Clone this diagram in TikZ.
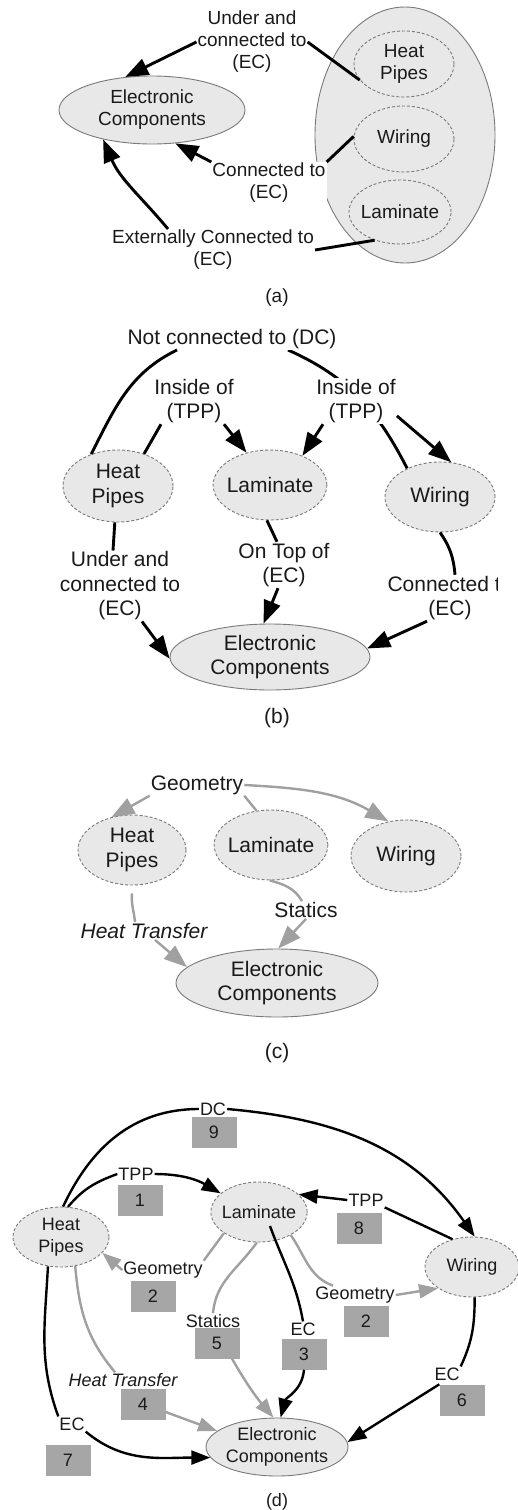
\documentclass[tikz,border=0pt]{standalone}
\usepackage{fontspec}
\setmainfont{Liberation Sans}
\usetikzlibrary{shapes.geometric,arrows.meta,backgrounds}
\definecolor{entfill}{HTML}{E8E8E8}
\definecolor{entline}{HTML}{7A7A7A}
\definecolor{linegray}{HTML}{A0A0A0}
\definecolor{boxgray}{HTML}{A6A6A6}
\definecolor{txt}{HTML}{1A1A1A}
\newcommand\fsA{\fontsize{19pt}{22pt}\selectfont}
\newcommand\fsB{\fontsize{21pt}{24.5pt}\selectfont}
\newcommand\fsD{\fontsize{18pt}{21.5pt}\selectfont}
\tikzset{
  ent/.style={ellipse, draw=entline, fill=entfill, line width=0.9pt, inner sep=-3pt, align=center, text=txt},
  dent/.style={ent, dash pattern=on 3pt off 2pt},
  lbl/.style={fill=white, inner sep=1pt, align=center, text=txt},
  blk/.style={draw=black, line width=2.9pt},
  blkd/.style={draw=black, line width=2.4pt},
  gry/.style={draw=linegray, line width=2.4pt},
  tipb/.style={-{Triangle[length=23pt,width=17pt]}},
  tips/.style={-{Triangle[length=19pt,width=14pt]}},
  num/.style={fill=boxgray, minimum width=45pt, minimum height=31pt, inner sep=0pt, text=txt},
}
\begin{document}
\begin{tikzpicture}[x=1pt,y=-1pt]
\useasboundingbox (0,0) rectangle (517,1510);
\begin{scope}[on background layer]
  \fill[white] (0,0) rectangle (517,1510);
\end{scope}

% ---------------- (a) ----------------
\begin{scope}[font=\fsA]
\node[ent, minimum width=180pt, minimum height=256pt] (aGroup) at (405,135) {};
\node[ent, minimum width=186pt, minimum height=68pt] (aEC) at (152,110) {Electronic\\Components};
\node[dent, minimum width=100pt, minimum height=66pt] (aHP) at (404,64) {Heat\\Pipes};
\node[dent, minimum width=100pt, minimum height=66pt] (aWi) at (404,139) {Wiring};
\node[dent, minimum width=102pt, minimum height=64pt] (aLa) at (400,212) {Laminate};
\node[lbl] (aL1) at (252,42) {Under and\\connected to\\(EC)};
\node[lbl] (aL2) at (269,183) {Connected to\\(EC)};
\node[lbl] (aL3) at (213,250) {Externally Connected to\\(EC)};
\draw[blk] (aHP.200) -- (aL1.east);
\draw[blk,tipb] (aL1.west) -- (aEC.129);
\draw[blk] (aWi.177) -- (aL2.north east);
\draw[blk,tipb] (aL2.north west) -- (aEC.305);
\draw[blk] (aLa.228) -- (aL3.east);
\draw[blk,tipb] ([xshift=-45pt]aL3.north) to[out=130,in=-67] (aEC.211);
\node[text=txt] (aCap) at (277,298) {(a)};
\end{scope}

% ---------------- (b) ----------------
\begin{scope}[font=\fsB]
\node[dent, minimum width=110pt, minimum height=72pt] (bHP) at (118,486) {Heat\\Pipes};
\node[dent, minimum width=108pt, minimum height=70pt] (bLa) at (270,485) {Laminate};
\node[dent, minimum width=110pt, minimum height=70pt] (bWi) at (440,497) {Wiring};
\node[ent, minimum width=200pt, minimum height=66pt] (bEC) at (270,657) {Electronic\\Components};
\node[lbl] (bDC) at (232,339) {Not connected to (DC)};
\node[lbl] (bIL) at (194,401) {Inside of\\(TPP)};
\node[lbl] (bIR) at (356,401) {Inside of\\(TPP)};
\node[lbl] (bL1) at (120,586) {Under and\\connected to\\(EC)};
\node[lbl] (bL2) at (284,565) {On Top of\\(EC)};
\begin{scope}
  \clip (370,560) rectangle (497,630);
  \node[lbl] (bL3) at (450,598) {Connected to\\(EC)};
\end{scope}
\begin{scope}[on background layer]
  \draw[blk] ([xshift=56pt]bDC.south) to[out=-24,in=117] (bWi.139);
\end{scope}
\draw[blk] (bHP.130) to[out=63,in=206] ([xshift=-55pt]bDC.south);
\draw[blk] (bHP.51) -- ([xshift=-33pt]bIL.south);
\draw[blk,tipb] ([xshift=30pt]bIL.south) -- (bLa.126);
\draw[blk,tipb] ([xshift=-33pt]bIR.south) -- (bLa.42);
\draw[blk,tipb] (bIR.-20) -- (bWi.72);
\draw[blk] (bHP.265) -- ([xshift=-7pt]bL1.north);
\draw[blk,tipb] ([xshift=22pt]bL1.south) -- (bEC.181);
\draw[blk] (bLa.265) -- ([xshift=-7pt]bL2.north);
\draw[blk,tipb] ([xshift=-6pt]bL2.south) -- (bEC.101);
\draw[blk] (bWi.270) to[out=-55,in=95] ([xshift=5pt]bL3.north);
\draw[blk,tipb] ([xshift=-23pt]bL3.south) -- (bEC.5);
\node[text=txt] (bCap) at (277,718) {(b)};
\end{scope}

% ---------------- (c) ----------------
\begin{scope}[font=\fsB]
\node[dent, minimum width=108pt, minimum height=70pt] (cHP) at (132,850) {Heat\\Pipes};
\node[dent, minimum width=108pt, minimum height=70pt] (cLa) at (271,845) {Laminate};
\node[dent, minimum width=110pt, minimum height=72pt] (cWi) at (406,856) {Wiring};
\node[ent, minimum width=202pt, minimum height=68pt] (cEC) at (277,983) {Electronic\\Components};
\node[lbl] (cGeo) at (197,785) {Geometry};
\node[lbl] (cSt) at (306,910) {Statics};
\node[lbl, font=\fsB\itshape] (cHT) at (144,931) {Heat Transfer};
\draw[gry] (cLa.113) -- (cGeo.south east);
\draw[gry,tipb] (cGeo.south west) -- (cHP.122);
\draw[gry,tipb] (cGeo.east) to[out=-3,in=150] (cWi.117);
\draw[gry] (cLa.268) to[out=-15,in=120] ([xshift=-4pt]cSt.north);
\draw[gry,tipb] (cSt.south) -- (cEC.88);
\draw[gry] ([yshift=-8pt]cHP.south) to[out=-95,in=95] ([xshift=-9pt]cHT.north);
\draw[gry,tipb] ([xshift=11pt]cHT.south) -- (cEC.170);
\node[text=txt] (cCap) at (277,1053) {(c)};
\end{scope}

% ---------------- (d) ----------------
\begin{scope}[font=\fsD]
\node[dent, minimum width=96pt, minimum height=60pt] (dHP) at (61,1237) {Heat\\Pipes};
\node[dent, minimum width=94pt, minimum height=60pt] (dLa) at (259,1212) {Laminate};
\node[dent, minimum width=94pt, minimum height=60pt] (dWi) at (472,1267) {Wiring};
\node[ent, minimum width=142pt, minimum height=58pt] (dEC) at (277,1447) {Electronic\\Components};

\node[lbl] (dDC) at (213,1109) {DC};
\node[num] (n9) at (214,1132) {9};
\node[lbl] (dTPa) at (136,1174) {TPP};
\node[num] (n1) at (140,1200) {1};
\node[lbl] (dTPb) at (366,1200) {TPP};
\node[num] (n8) at (359,1228) {8};
\node[lbl] (dGeoA) at (163,1270) {Geometry};
\node[num] (n2a) at (153,1296) {2};
\node[lbl] (dSt) at (213,1321) {Statics};
\node[num] (n5) at (217,1343) {5};
\node[lbl] (dECa) at (303,1329) {EC};
\node[num] (n3) at (304,1354) {3};
\node[lbl] (dGeoB) at (355,1295) {Geometry};
\node[num] (n2b) at (366,1321) {2};
\node[lbl] (dECb) at (447,1374) {EC};
\node[num] (n6) at (462,1400) {6};
\node[lbl, font=\fsD\itshape] (dHT) at (123,1380) {Heat Transfer};
\node[num] (n4) at (143,1404) {4};
\node[lbl] (dECc) at (72,1424) {EC};
\node[num] (n7) at (68,1460) {7};

% disconnected: heat pipes / wiring
\draw[blkd] (dHP.86) to[out=65,in=180] (dDC.west);
\draw[blkd,tips] (dDC.east) to[out=-5,in=125] (dWi.85);
% proper parts
\draw[blkd] (dHP.77) to[out=50,in=200] (dTPa.west);
\draw[blkd,tips] (dTPa.east) to[out=0,in=150] (dLa.154);
\draw[blkd] (dWi.125) -- (dTPb.south east);
\draw[blkd,tips] (dTPb.west) -- (dLa.24);
% geometry
\draw[gry] (dLa.211) -- (dGeoA.north east);
\draw[gry,tips] (dGeoA.west) -- (dHP.-21);
\draw[gry] (dLa.-36) to[out=-55,in=160] ([xshift=-22pt]dGeoB.north);
\draw[gry,tips] (dGeoB.east) -- (dWi.212);
% statics
\draw[gry] (dLa.266) to[out=-125,in=85] (dSt.north);
\draw[gry,tips] ([xshift=15pt]n5.south) to[out=-60,in=130] (dEC.97);
% laminate on electronic components
\draw[blkd] ([xshift=11pt,yshift=-14pt]dLa.center) to[out=-70,in=100] (dECa.north);
\draw[blkd,tips] (n3.south) to[out=-95,in=75] (dEC.83);
% wiring on electronic components
\draw[blkd] (dWi.275) to[out=-90,in=65] (dECb.north east);
\draw[blkd,tips] (n6.north west) -- (dEC.4);
% heat transfer
\draw[gry] (dHP.296) to[out=-85,in=130] ([xshift=-8pt]dHT.north);
\draw[gry,tips] ([yshift=-8pt]n4.east) -- (dEC.165);
% heat pipes on electronic components
\draw[blkd] (dHP.246) to[out=-93,in=110] (dECc.north west);
\draw[blkd,tips] (dECc.south east) to[out=-40,in=180] (dEC.189);
\node[text=txt] (dCap) at (277,1502) {(d)};
\end{scope}
\end{tikzpicture}
\end{document}
